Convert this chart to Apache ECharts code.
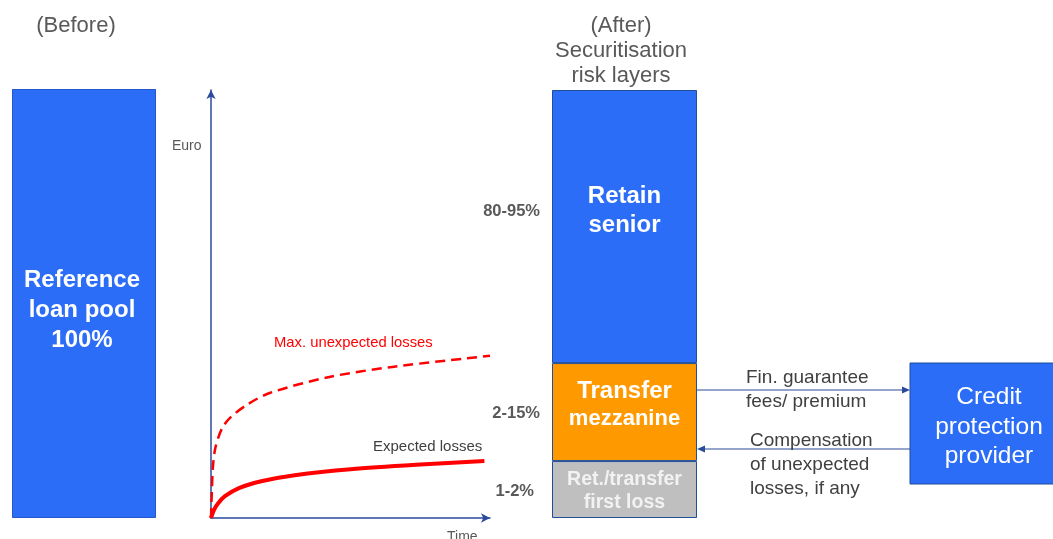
<!DOCTYPE html>
<html><head><meta charset="utf-8">
<script src="https://cdn.jsdelivr.net/npm/echarts@6/dist/echarts.min.js"></script>
<style>html,body{margin:0;padding:0;background:#fff}#c{width:1053px;height:539px}</style>
</head><body><div id="c"></div>
<script>
const poolLabel = ['Reference\nloan pool\n100%'];
const poolValue = [100];
const layerNames = ['{a|Ret./transfer}\n{a|first loss}', '{a|Transfer}\n{b|mezzanine}', '{a|Retain}\n{a|senior}'];
const layerShares = ['1-2%', '2-15%', '80-95%'];
const layerHeights = [13.3, 22.9, 63.8];
const layerColors = ['#BFBFBF', '#FF9900', '#2B6DF7'];
const expectedLosses = [[0,0],[1,1.8],[2.5,3.4],[5,5.1],[10,7],[18,8.6],[30,10],[50,11.4],[75,12.5],[98,13.3]];
const maxUnexpectedLosses = [[0,0],[0.3,6],[0.7,12],[1.6,16.5],[4,21],[7,23.5],[13,26.5],[21,29.2],[42,32.9],[65,35.3],[100,37.9]];

const BLUE = '#2B6DF7', AXIS = '#2A4A9A', TXT = '#404040', FONT = 'Liberation Sans, Arial, sans-serif';
const chart = echarts.init(document.getElementById('c'));

const richSets = [
  { a: { fontSize: 19.5, lineHeight: 23, fontWeight: 'bold', color: '#F2F2F2', fontFamily: FONT } },
  { a: { fontSize: 24, lineHeight: 27, fontWeight: 'bold', color: '#fff', fontFamily: FONT }, b: { fontSize: 22, lineHeight: 27, fontWeight: 'bold', color: '#fff', fontFamily: FONT } },
  { a: { fontSize: 24, lineHeight: 29, fontWeight: 'bold', color: '#fff', fontFamily: FONT } }
];

const layerSeries = layerHeights.map((h, i) => ({
  type: 'bar', xAxisIndex: 2, yAxisIndex: 2, stack: 'layers', barWidth: '100%',
  data: [h],
  itemStyle: { color: layerColors[i], borderColor: '#1F4E9A', borderWidth: 1 },
  label: {
    show: true, position: 'inside', formatter: layerNames[i], rich: richSets[i],
    offset: [0, [2, -7, -16][i]]
  }
}));

const shareTexts = [[534, 491], [540, 413], [540, 211]].map((p, i) => ({
  type: 'text', x: p[0], y: p[1],
  style: { text: layerShares[i], fill: '#595959', font: 'bold 16.5px ' + FONT, textAlign: 'right', textVerticalAlign: 'middle' }
}));

function txt(x, y, t, size, fill, align, lh, weight) {
  return { type: 'text', x, y, style: { text: t, fill, font: (weight || 'normal') + ' ' + size + 'px ' + FONT, textAlign: align || 'left', textVerticalAlign: 'middle', lineHeight: lh || size * 1.2 } };
}

chart.setOption({
  animation: false,
  grid: [
    { left: 12, top: 89, width: 144, height: 429 },
    { left: 211, top: 90, width: 279, height: 428 },
    { left: 552, top: 90, width: 145, height: 428 }
  ],
  xAxis: [
    { gridIndex: 0, type: 'category', data: ['Before'], show: false },
    { gridIndex: 1, type: 'value', min: 0, max: 100, axisLine: { show: true, onZero: false, symbol: ['none', 'arrow'], symbolSize: [7, 9], lineStyle: { color: AXIS, width: 1.5 } }, axisTick: { show: false }, axisLabel: { show: false }, splitLine: { show: false } },
    { gridIndex: 2, type: 'category', data: ['After'], show: false }
  ],
  yAxis: [
    { gridIndex: 0, type: 'value', min: 0, max: 100, show: false },
    { gridIndex: 1, type: 'value', min: 0, max: 100, axisLine: { show: true, onZero: false, symbol: ['none', 'arrow'], symbolSize: [7, 9], lineStyle: { color: AXIS, width: 1.5 } }, axisTick: { show: false }, axisLabel: { show: false }, splitLine: { show: false } },
    { gridIndex: 2, type: 'value', min: 0, max: 100, show: false }
  ],
  series: [
    {
      type: 'bar', xAxisIndex: 0, yAxisIndex: 0, barWidth: '100%', data: poolValue,
      itemStyle: { color: BLUE, borderColor: '#2458C8', borderWidth: 1 },
      label: { show: true, position: 'inside', formatter: poolLabel[0], color: '#fff', fontFamily: FONT, fontWeight: 'bold', fontSize: 24, lineHeight: 30, offset: [-2, 7] }
    },
    {
      type: 'line', xAxisIndex: 1, yAxisIndex: 1, data: maxUnexpectedLosses, showSymbol: false, smooth: 0.3,
      lineStyle: { color: '#FF0000', width: 2.5, type: [10, 6] }
    },
    {
      type: 'line', xAxisIndex: 1, yAxisIndex: 1, data: expectedLosses, showSymbol: false, smooth: 0.3,
      lineStyle: { color: '#FF0000', width: 4 }
    },
    ...layerSeries
  ],
  graphic: [
    txt(76, 26, '(Before)', 22, '#595959', 'center'),
    { type: 'text', x: 621, y: 51, style: { text: '(After)\nSecuritisation\nrisk layers', fill: '#595959', font: '22px ' + FONT, textAlign: 'center', textVerticalAlign: 'middle', lineHeight: 25 } },
    txt(172, 146, 'Euro', 14, '#595959'),
    txt(447, 537, 'Time', 14, '#595959'),
    txt(274, 343, 'Max. unexpected losses', 14.8, '#FF0000'),
    txt(373, 447, 'Expected losses', 15, TXT),
    ...shareTexts,
    { type: 'rect', shape: { x: 910, y: 363, width: 145, height: 121 }, style: { fill: BLUE, stroke: '#1F4E9A', lineWidth: 1 } },
    { type: 'text', x: 989, y: 427, style: { text: 'Credit\nprotection\nprovider', fill: '#fff', font: '24.5px ' + FONT, textAlign: 'center', textVerticalAlign: 'middle', lineHeight: 29.5 } },
    { type: 'line', shape: { x1: 697, y1: 390, x2: 903, y2: 390 }, style: { stroke: AXIS, lineWidth: 1.2 } },
    { type: 'polygon', shape: { points: [[910, 390], [902, 386.5], [902, 393.5]] }, style: { fill: AXIS } },
    { type: 'line', shape: { x1: 704, y1: 449, x2: 910, y2: 449 }, style: { stroke: AXIS, lineWidth: 1.2 } },
    { type: 'polygon', shape: { points: [[697, 449], [705, 445.5], [705, 452.5]] }, style: { fill: AXIS } },
    { type: 'text', x: 746, y: 390, style: { text: 'Fin. guarantee\nfees/ premium', fill: TXT, font: '19px ' + FONT, textVerticalAlign: 'middle', lineHeight: 24 } },
    { type: 'text', x: 750, y: 465, style: { text: 'Compensation\nof unexpected\nlosses, if any', fill: TXT, font: '19px ' + FONT, textVerticalAlign: 'middle', lineHeight: 24 } }
  ]
});
</script></body></html>
